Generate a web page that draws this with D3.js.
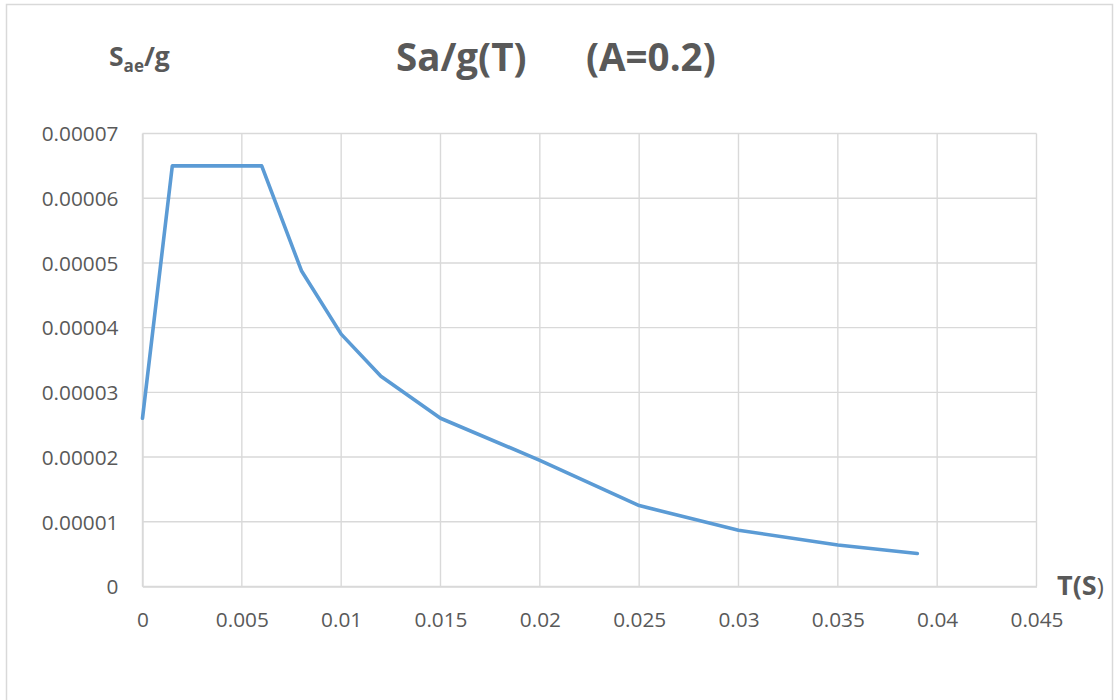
<!DOCTYPE html>
<html>
<head>
<meta charset="utf-8">
<script src="https://cdn.jsdelivr.net/npm/d3@7"></script>
<style>
  html, body { margin: 0; padding: 0; background: #ffffff; }
  svg { display: block; }
  text { font-family: "Open Sans", "Liberation Sans", sans-serif; fill: #595959; }
</style>
</head>
<body>
<svg id="chart" width="1114" height="700"></svg>
<script>
// Elastic response spectrum Sa/g versus period T
const periods = [0, 0.0015, 0.006, 0.008, 0.01, 0.012, 0.015, 0.02, 0.025, 0.03, 0.035, 0.039];
const saeValues = [0.000026, 0.000065, 0.000065, 0.0000488, 0.000039, 0.0000325, 0.000026, 0.0000195, 0.0000125, 0.0000087, 0.0000064, 0.0000051];

const xTickValues = [0, 0.005, 0.01, 0.015, 0.02, 0.025, 0.03, 0.035, 0.04, 0.045];
const xTickLabels = ["0", "0.005", "0.01", "0.015", "0.02", "0.025", "0.03", "0.035", "0.04", "0.045"];
const yTickValues = [0, 0.00001, 0.00002, 0.00003, 0.00004, 0.00005, 0.00006, 0.00007];
const yTickLabels = ["0", "0.00001", "0.00002", "0.00003", "0.00004", "0.00005", "0.00006", "0.00007"];

const titleMain = "Sa/g(T)";
const titleParam = "(A=0.2)";

const svg = d3.select("#chart");

// outer chart frame
svg.append("rect")
  .attr("x", 6.5).attr("y", 4.5)
  .attr("width", 1106).attr("height", 720)
  .attr("fill", "#ffffff")
  .attr("stroke", "#d9d9d9")
  .attr("stroke-width", 1.5);

const x = d3.scaleLinear().domain([0, 0.045]).range([142.5, 1036.5]);
const y = d3.scaleLinear().domain([0, 0.00007]).range([586.5, 133.5]);

// grid lines
const grid = svg.append("g");
grid.selectAll("line.v")
  .data(xTickValues)
  .join("line")
  .attr("class", "v")
  .attr("x1", d => x(d)).attr("x2", d => x(d))
  .attr("y1", y(0.00007)).attr("y2", y(0))
  .attr("stroke", "#d9d9d9").attr("stroke-width", 1.4);
grid.selectAll("line.h")
  .data(yTickValues)
  .join("line")
  .attr("class", "h")
  .attr("x1", x(0)).attr("x2", x(0.045))
  .attr("y1", d => y(d)).attr("y2", d => y(d))
  .attr("stroke", "#d9d9d9").attr("stroke-width", 1.4);

// axes (labels only, lines drawn by grid)
const xAxis = d3.axisBottom(x)
  .tickValues(xTickValues)
  .tickFormat((d, i) => xTickLabels[i])
  .tickSize(0).tickPadding(0);
const gx = svg.append("g").attr("transform", `translate(0,${y(0)})`).call(xAxis);
gx.select(".domain").attr("stroke", "#d9d9d9").attr("stroke-width", 1.4);
gx.selectAll("text")
  .attr("dy", null).attr("y", 40)
  .style("font-size", "20.8px").style("fill", "#595959");

const yAxis = d3.axisLeft(y)
  .tickValues(yTickValues)
  .tickFormat((d, i) => yTickLabels[i])
  .tickSize(0).tickPadding(0);
const gy = svg.append("g").attr("transform", `translate(${x(0)},0)`).call(yAxis);
gy.select(".domain").attr("stroke", "#d9d9d9").attr("stroke-width", 1.4);
gy.selectAll("text")
  .attr("x", -24).attr("dy", "0.35em")
  .style("font-size", "20.8px").style("fill", "#595959");

// spectrum line
const line = d3.line()
  .x((d, i) => x(periods[i]))
  .y(d => y(d));
svg.append("path")
  .datum(saeValues)
  .attr("d", line)
  .attr("fill", "none")
  .attr("stroke", "#5b9bd5")
  .attr("stroke-width", 3.6)
  .attr("stroke-linejoin", "round")
  .attr("stroke-linecap", "round");

// title
const title = svg.append("text")
  .attr("y", 71)
  .style("font-size", "38.5px")
  .style("font-weight", "700");
title.append("tspan").attr("x", 396).text(titleMain);
title.append("tspan").attr("x", 586).text(titleParam);

// y axis label S_ae/g
const yl = svg.append("text")
  .attr("x", 109).attr("y", 66)
  .style("font-size", "26.5px")
  .style("font-weight", "700");
yl.append("tspan").text("S");
yl.append("tspan").attr("dy", 6).style("font-size", "17px").text("ae");
yl.append("tspan").attr("dy", -6).text("/g");

// x axis label T(S)
const xl = svg.append("text")
  .attr("x", 1057).attr("y", 595)
  .style("font-size", "27px")
  .style("font-weight", "700");
xl.append("tspan").text("T(S");
xl.append("tspan").style("font-weight", "400").style("font-size", "24px").text(")");
</script>
</body>
</html>
